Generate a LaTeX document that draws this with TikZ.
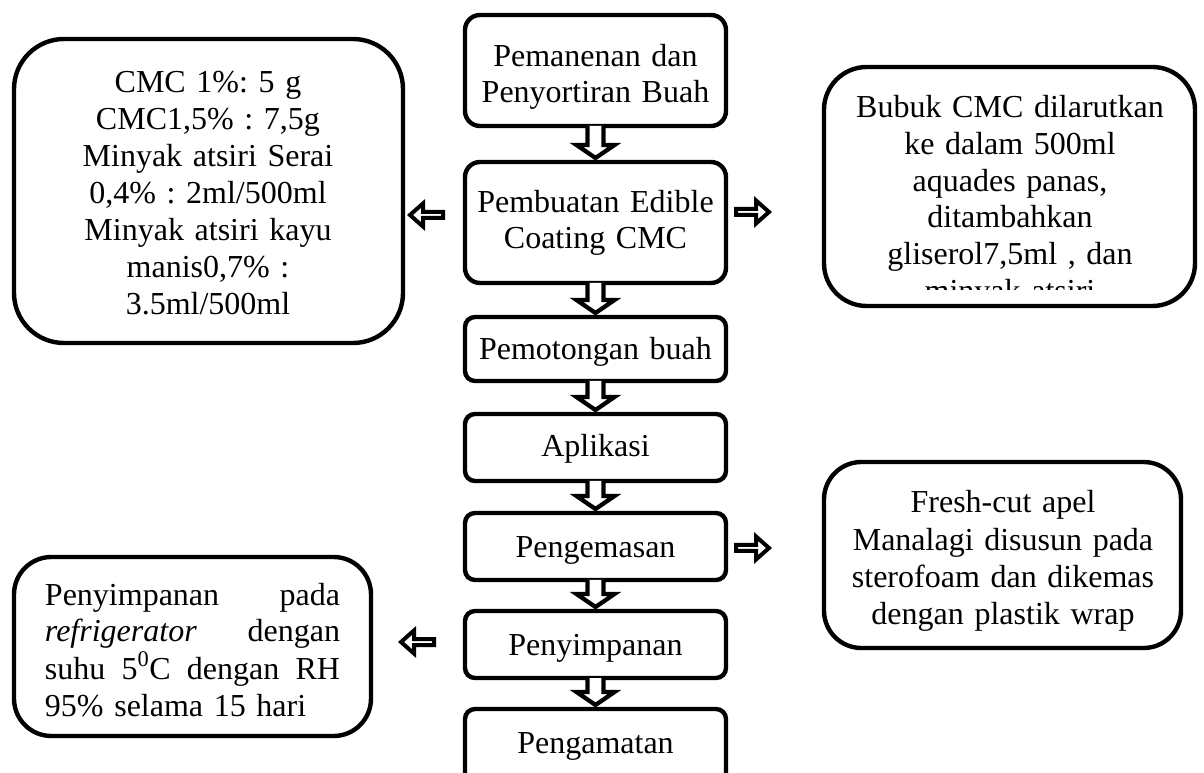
\documentclass[tikz,border=0pt]{standalone}
\usepackage{fontspec}
\setmainfont{Liberation Serif}
\usetikzlibrary{calc}
\frenchspacing
\newcommand\darr[2]{\draw[barrow] ($(#1.south)+(-8,0)$) -- ($(#2.north)+(-8,-17)$) -- ($(#2.north)+(-19,-17)$) -- ($(#2.north)+(0,-4)$) -- ($(#2.north)+(19,-17)$) -- ($(#2.north)+(8,-17)$) -- ($(#1.south)+(8,0)$);}
\newcommand\larr[1]{\draw[sarrow] (#1) -- ++(13,-11.5) -- ++(0,8.5) -- ++(20,0) -- ++(0,6) -- ++(-20,0) -- ++(0,8.5) -- cycle;}
\newcommand\rarr[1]{\draw[sarrow] (#1) -- ++(-13,-11.5) -- ++(0,8.5) -- ++(-20,0) -- ++(0,6) -- ++(20,0) -- ++(0,8.5) -- cycle;}
\newcommand\jline[1]{\leavevmode\hbox to 221.25pt{#1}}
\begin{document}
\begin{tikzpicture}[x=0.75pt,y=-0.75pt,
  box/.style={draw, line width=3.3pt, outer sep=0pt, inner sep=0pt},
  txt/.style={inner sep=0pt, anchor=base, align=center, font=\fontsize{24pt}{27.5pt}\selectfont},
  barrow/.style={draw, fill=white, line width=3.2pt, line join=miter},
  sarrow/.style={draw, fill=white, line width=3pt, line join=miter}]
\clip (0,0) rectangle (1204,773);
\fill[white] (0,0) rectangle (1204,773);
% main column
\node[box, rounded corners=11.25pt, minimum width=195.75pt, minimum height=83.25pt] (b1) at (595.5,70.5) {};
\node[box, rounded corners=11.25pt, minimum width=195.75pt, minimum height=90.75pt] (b2) at (595.5,222.5) {};
\node[box, rounded corners=7.5pt, minimum width=195.75pt, minimum height=48pt] (b3) at (595.5,349) {};
\node[box, rounded corners=7.5pt, minimum width=195.75pt, minimum height=50.25pt] (b4) at (595.5,447.5) {};
\node[box, rounded corners=7.5pt, minimum width=195.75pt, minimum height=50.25pt] (b5) at (595.5,546.5) {};
\node[box, rounded corners=7.5pt, minimum width=195.75pt, minimum height=50.25pt] (b6) at (595.5,644.5) {};
\node[box, rounded corners=7.5pt, minimum width=195.75pt, minimum height=68.25pt] (b7) at (595.5,754.5) {};
% side boxes
\node[box, rounded corners=37.5pt, minimum width=291.75pt, minimum height=228pt] (l1) at (208.5,191) {};
\node[box, rounded corners=32pt, minimum width=278.25pt, minimum height=179.25pt] (r1) at (1009.5,186.5) {};
\node[box, rounded corners=28pt, minimum width=267.75pt, minimum height=139.5pt] (r2) at (1002.5,555) {};
\node[box, rounded corners=28pt, minimum width=267.75pt, minimum height=134.25pt] (bl) at (192.5,646.5) {};
% texts
\node[txt, text width=190pt, font=\fontsize{24pt}{27pt}\selectfont] (tb1) at (595.5,67) {Pemanenan dan\\Penyortiran Buah};
\node[txt, text width=190pt, font=\fontsize{24pt}{26.5pt}\selectfont] (tb2) at (595.5,213) {Pembuatan Edible\\Coating CMC};
\node[txt, text width=190pt] (tb3) at (595.5,360) {Pemotongan buah};
\node[txt, text width=190pt] (tb4) at (595.5,457) {Aplikasi};
\node[txt, text width=190pt] (tb5) at (595.5,557) {Pengemasan};
\node[txt, text width=190pt] (tb6) at (595.5,655) {Penyimpanan};
\node[txt, text width=190pt] (tb7) at (595.5,753) {Pengamatan};
\node[txt, text width=280pt, font=\fontsize{24pt}{27.75pt}\selectfont] (tl1) at (208,93) {CMC 1\%: 5 g\\CMC1,5\% : 7,5g\\Minyak atsiri Serai\\0,4\% : 2ml/500ml\\Minyak atsiri kayu\\manis0,7\% :\\3.5ml/500ml};
\begin{scope}
\clip (830,70) rectangle (1190,290);
\node[txt, text width=270pt, font=\fontsize{24pt}{27.5pt}\selectfont] (tr1) at (1010,118) {Bubuk CMC dilarutkan\\ke dalam 500ml\\aquades panas,\\ditambahkan\\gliserol7,5ml , dan\\minyak atsiri};
\end{scope}
\node[txt, text width=260pt, font=\fontsize{24pt}{28pt}\selectfont] (tr2) at (1003,513) {Fresh-cut apel\\Manalagi disusun pada\\sterofoam dan dikemas\\dengan plastik wrap};
\node[txt, text width=221.25pt, align=left, font=\fontsize{24pt}{27.75pt}\selectfont] (tbl) at (192.5,605) {\jline{Penyimpanan\hfill pada}\\\jline{\textit{refrigerator}\hfill dengan}\\\jline{suhu\hfill 5\textsuperscript{0}C\hfill dengan\hfill RH}\\\jline{95\% selama 15 hari\hfill}};
% block arrows
\darr{b1}{b2}
\darr{b2}{b3}
\darr{b3}{b4}
\darr{b4}{b5}
\darr{b5}{b6}
\darr{b6}{b7}
% small side arrows
\coordinate (al1) at (410,215);
\coordinate (ar1) at (769,212);
\coordinate (ar2) at (769,548);
\coordinate (al2) at (401,642);
\larr{al1}
\rarr{ar1}
\rarr{ar2}
\larr{al2}
\end{tikzpicture}
\end{document}
